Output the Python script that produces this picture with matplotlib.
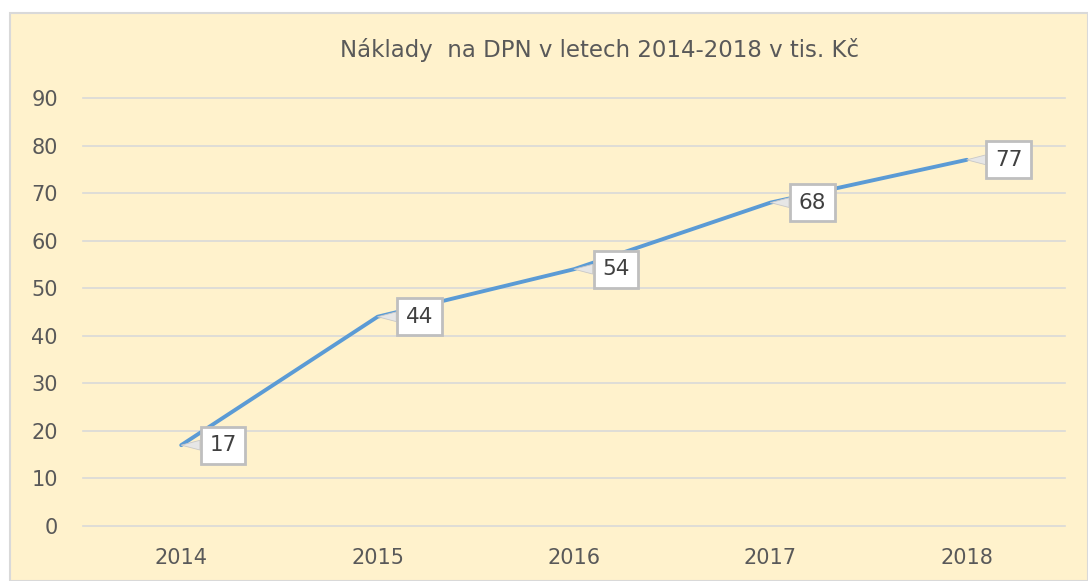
import matplotlib
matplotlib.use("Agg")
import matplotlib.pyplot as plt
from matplotlib.patches import Rectangle

years = ["2014", "2015", "2016", "2017", "2018"]
values = [17, 44, 54, 68, 77]
yticks = [0, 10, 20, 30, 40, 50, 60, 70, 80, 90]
title = "Náklady  na DPN v letech 2014-2018 v tis. Kč"

plt.rcParams['font.family'] = ['DejaVu Sans']

W, H = 1088, 581
fig = plt.figure(figsize=(W / 100, H / 100), dpi=100, facecolor="white")

# chart area background
bg = Rectangle((10 / W, 0), 1 - 10 / W, (H - 13) / H, transform=fig.transFigure,
               facecolor="#FFF2CC", edgecolor="#D9D9D9", linewidth=1.5, zorder=-5)
fig.patches.append(bg)

left, right = 83 / W, 1065 / W
bottom, top = (H - 526) / H, (H - 98) / H
ax = fig.add_axes([left, bottom, right - left, top - bottom], zorder=1)
ax.set_facecolor("none")

x = list(range(len(years)))
ax.plot(x, values, color="#5B9BD5", linewidth=2.8, solid_capstyle="round", zorder=3)

for xi, v in zip(x, values):
    ax.annotate(str(v), xy=(xi, v), xytext=(42, 0), textcoords="offset pixels",
                ha="center", va="center", fontsize=15.5, color="#404040",
                bbox=dict(boxstyle="square,pad=0.4", facecolor="white",
                          edgecolor="#BFBFBF", linewidth=2),
                arrowprops=dict(arrowstyle="wedge,tail_width=0.45,shrink_factor=0.5",
                                facecolor="#E6E6E6", edgecolor="#C8C8C8",
                                linewidth=0.6, shrinkA=0, shrinkB=0),
                zorder=4)

ax.set_xlim(-0.5, len(years) - 0.5)
ax.set_ylim(0, 90)
ax.set_xticks(x)
ax.set_xticklabels(years)
ax.set_yticks(yticks)
ax.tick_params(axis="both", length=0, labelsize=15, labelcolor="#595959")
ax.tick_params(axis="x", pad=16)
ax.tick_params(axis="y", pad=18)
ax.grid(axis="y", color="#D9D9D9", linewidth=1.2)
for gl in ax.yaxis.get_gridlines():
    gl.set_clip_on(False)
ax.set_axisbelow(True)
for s in ax.spines.values():
    s.set_visible(False)

fig.text(600 / W, (H - 50) / H, title, ha="center", va="center",
         fontsize=16.5, color="#595959")

fig.savefig("out.png", dpi=100, facecolor="white")
